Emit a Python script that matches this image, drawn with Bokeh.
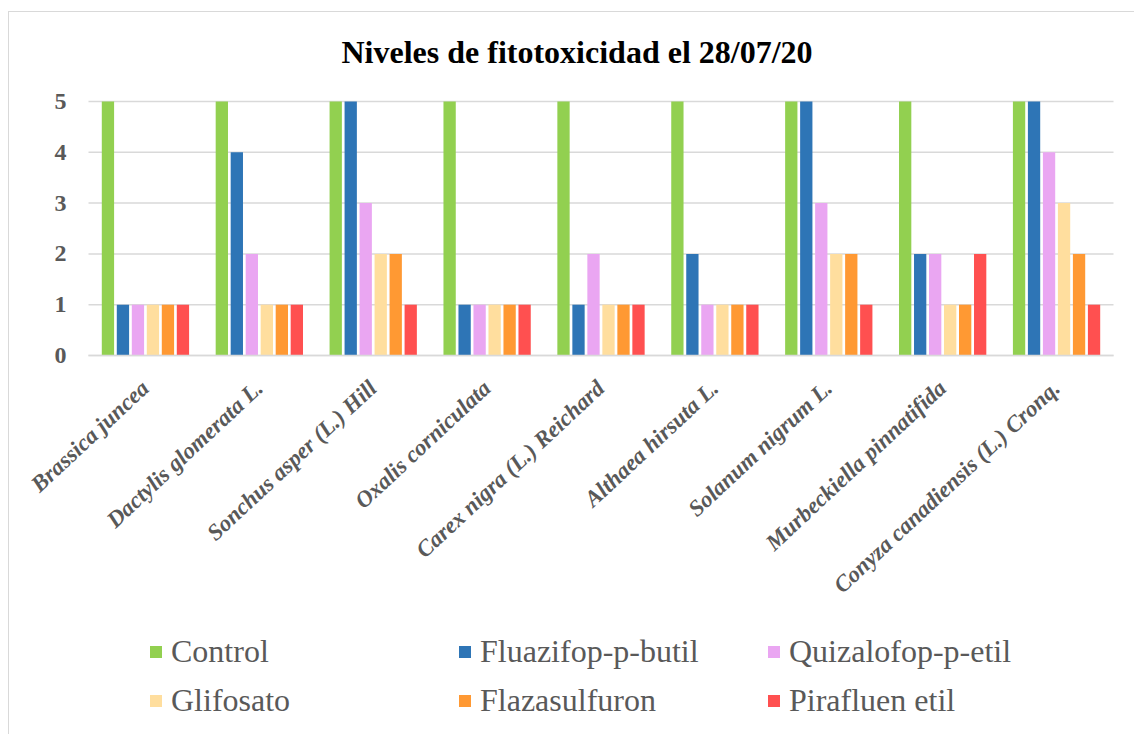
import math
from bokeh.plotting import figure
from bokeh.models import Range1d, Legend, LegendItem, ColumnDataSource, FixedTicker, Label
from bokeh.transform import dodge
from bokeh.embed import file_html
from bokeh.resources import INLINE

species = ["Brassica juncea", "Dactylis glomerata L.", "Sonchus asper (L.) Hill",
           "Oxalis corniculata", "Carex nigra (L.) Reichard", "Althaea hirsuta L.",
           "Solanum nigrum L.", "Murbeckiella pinnatifida", "Conyza canadiensis (L.) Cronq."]
treatments = ["Control", "Fluazifop-p-butil", "Quizalofop-p-etil",
              "Glifosato", "Flazasulfuron", "Pirafluen etil"]
control = [5, 5, 5, 5, 5, 5, 5, 5, 5]
fluazifop = [1, 4, 5, 1, 1, 2, 5, 2, 5]
quizalofop = [1, 2, 3, 1, 2, 1, 3, 2, 4]
glifosato = [1, 1, 2, 1, 1, 1, 2, 1, 3]
flazasulfuron = [1, 1, 2, 1, 1, 1, 2, 1, 2]
pirafluen = [1, 1, 1, 1, 1, 1, 1, 2, 1]
colors = ["#92D050", "#2E75B6", "#EAA6F2", "#FFDE9E", "#FF9933", "#FF5050"]
y_ticks = [0, 1, 2, 3, 4, 5]
title_text = "Niveles de fitotoxicidad el 28/07/20"

series = [control, fluazifop, quizalofop, glifosato, flazasulfuron, pirafluen]
n = len(species)
xc = list(range(n))
data = {"xc": xc, "species": species}
keys = ["s0", "s1", "s2", "s3", "s4", "s5"]
for k, s in zip(keys, series):
    data[k] = s
source = ColumnDataSource(data)

GREY = "#595959"
SERIF = "Liberation Serif"

# layout (pixels): canvas 1125 x 722, plot area left 79, top 89, 1025 x 254
CW, CH = 1125, 722
PL, PT, PW, PH = 79, 89, 1025, 254
px_x = PW / n
px_y = PH / 5.0
x_lo = -0.5 - PL / px_x
x_hi = x_lo + CW / px_x
y_hi = 5 + PT / px_y
y_lo = y_hi - CH / px_y

p = figure(x_range=Range1d(x_lo, x_hi), y_range=Range1d(y_lo, y_hi),
           frame_width=CW, frame_height=CH, output_backend="svg", toolbar_location=None,
           min_border=0)
p.margin = (11, 0, 0, 8)
p.styles = {"border-left": "1px solid #d9d9d9", "border-top": "1px solid #d9d9d9"}
p.outline_line_color = None
p.title.visible = False
p.xgrid.visible = False
p.ygrid.visible = False

# horizontal gridlines across the category span
p.segment(x0=[-0.5] * len(y_ticks), x1=[n - 0.5] * len(y_ticks), y0=y_ticks, y1=y_ticks,
          line_color="#d9d9d9", line_width=1.5)

pitch = 0.1317
renderers = []
for i, k in enumerate(keys):
    r = p.vbar(x=dodge("xc", (i - 2.5) * pitch), top=k, bottom=0,
               width=0.108, source=source, fill_color=colors[i], line_color=None)
    renderers.append(r)

p.add_layout(Label(x=332, y=CH - 39, x_units="screen", y_units="screen", text=title_text,
                   text_font=SERIF, text_font_style="bold", text_font_size="32px",
                   text_color="black", text_align="left", text_baseline="alphabetic"))

p.yaxis.fixed_location = -0.5
p.yaxis.bounds = (0, 5)
p.yaxis.ticker = FixedTicker(ticks=y_ticks)
p.yaxis.axis_line_color = None
p.yaxis.major_tick_line_color = None
p.yaxis.minor_tick_line_color = None
p.yaxis.major_label_text_font = SERIF
p.yaxis.major_label_text_font_style = "bold"
p.yaxis.major_label_text_font_size = "24px"
p.yaxis.major_label_text_color = GREY
p.yaxis.major_label_standoff = 16

p.xaxis.fixed_location = 0
p.xaxis.bounds = (-0.5, n - 0.5)
p.xaxis.ticker = FixedTicker(ticks=xc)
p.xaxis.major_label_overrides = {i: s for i, s in zip(xc, species)}
p.xaxis.axis_line_color = "#d9d9d9"
p.xaxis.axis_line_width = 1.5
p.xaxis.major_tick_line_color = None
p.xaxis.minor_tick_line_color = None
p.xaxis.major_label_text_font = SERIF
p.xaxis.major_label_text_font_style = "bold italic"
p.xaxis.major_label_text_font_size = "23px"
p.xaxis.major_label_text_color = GREY
p.xaxis.major_label_orientation = math.radians(43)
p.xaxis.major_label_standoff = 23

items = [LegendItem(label=t, renderers=[r]) for t, r in zip(treatments, renderers)]
legend = Legend(items=items, location=(139, 15), orientation="horizontal", ncols=3,
                glyph_width=15, glyph_height=15, label_standoff=8, label_width=274,
                label_height=36, spacing=12, padding=0, margin=0,
                label_text_font=SERIF, label_text_font_size="32px", label_text_color=GREY,
                background_fill_alpha=0, border_line_alpha=0)
p.add_layout(legend, "center")

open("out.html", "w").write(file_html(p, INLINE))
